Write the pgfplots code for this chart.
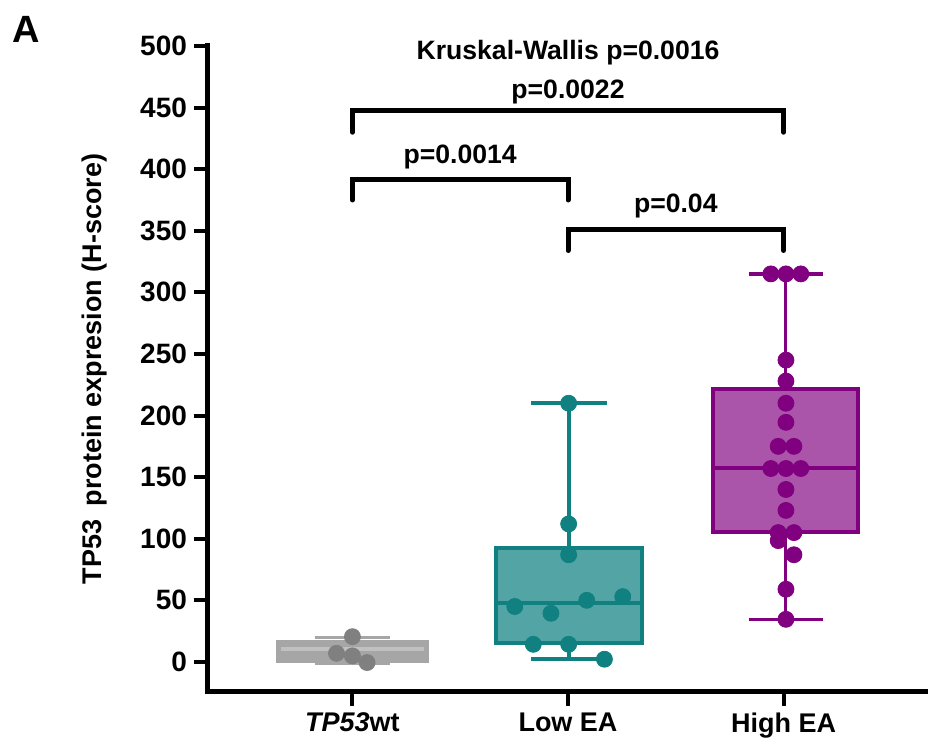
\documentclass[border=0pt]{standalone}
\usepackage{fontspec}
\setmainfont{Liberation Sans}
\usepackage{pgfplots}
\pgfplotsset{compat=1.18}
\definecolor{tealc}{RGB}{16,128,128}
\definecolor{purp}{RGB}{128,0,128}
\definecolor{grayc}{RGB}{128,128,128}
\begin{document}
\begin{tikzpicture}
\useasboundingbox (0,0) rectangle (464pt,371.5pt);
\node[font=\bfseries\fontsize{19}{22}\selectfont, anchor=center] at (13pt,357pt) {A};
\begin{axis}[
  at={(104pt,25.5pt)}, anchor=south west,
  scale only axis, width=360pt, height=323pt,
  xmin=-0.67, xmax=2.67, ymin=-24.4, ymax=500,
  axis lines=left,
  axis line style={-, line width=2.5pt, line cap=rect},
  xtick={0,1,2},
  xticklabels={\textit{TP53}wt, Low EA, High EA},
  ytick={0,50,...,500},
  tick align=outside, major tick length=7pt,
  tick style={line width=2pt, black},
  /pgf/number format/assume math mode=true,
  yticklabel style={font=\bfseries\fontsize{14}{16}\selectfont},
  xticklabel style={font=\bfseries\fontsize{13.5}{16}\selectfont},
  ylabel={TP53\hspace{0.5em}protein expresion (H-score)},
  ylabel style={font=\bfseries\fontsize{13.5}{16}\selectfont, at={(axis description cs:-0.157,0.5)}, anchor=center},
  clip=false,
]
% ---- TP53wt box
\addplot[draw=grayc!70, fill=grayc!70, line width=2pt] coordinates {(-0.345,0.5) (0.345,0.5) (0.345,16) (-0.345,16)} --cycle;
\addplot[grayc!70, line width=1.75pt] coordinates {(-0.175,19.7) (0.175,19.7)};
\addplot[grayc!70, line width=1.75pt] coordinates {(0,16) (0,19.7)};
\addplot[grayc!70, line width=1.75pt] coordinates {(-0.175,-0.8) (0.175,-0.8)};
\addplot[grayc!50, line width=2pt] coordinates {(-0.33,10.3) (0.33,10.3)};
% ---- Low EA box
\addplot[draw=tealc, fill=tealc!72, line width=2pt] coordinates {(0.665,15.2) (1.345,15.2) (1.345,92.3) (0.665,92.3)} --cycle;
\addplot[tealc, line width=2pt] coordinates {(0.665,47.6) (1.345,47.6)};
\addplot[tealc, line width=1.75pt] coordinates {(1.005,92.3) (1.005,210)};
\addplot[tealc, line width=1.75pt] coordinates {(0.83,210) (1.18,210)};
\addplot[tealc, line width=1.75pt] coordinates {(1.005,15.2) (1.005,2.2)};
\addplot[tealc, line width=1.75pt] coordinates {(0.83,2.2) (1.18,2.2)};
% ---- High EA box
\addplot[draw=purp, fill=purp!67, line width=2pt] coordinates {(1.6725,105.8) (2.3475,105.8) (2.3475,221.3) (1.6725,221.3)} --cycle;
\addplot[purp, line width=2pt] coordinates {(1.6725,157.2) (2.3475,157.2)};
\addplot[purp, line width=1.75pt] coordinates {(2.01,221.3) (2.01,315)};
\addplot[purp, line width=1.75pt] coordinates {(1.8375,315) (2.1825,315)};
\addplot[purp, line width=1.75pt] coordinates {(2.01,105.8) (2.01,34.6)};
\addplot[purp, line width=1.75pt] coordinates {(1.8375,34.6) (2.1825,34.6)};
% ---- points
\addplot[only marks, mark=*, mark size=4pt, mark options={fill=grayc, draw=grayc}] coordinates {
(0,20.5) (-0.074,7) (0,4.9) (0.068,-0.5)};
\addplot[only marks, mark=*, mark size=4pt, mark options={fill=tealc, draw=tealc}] coordinates {
(1.003,210) (1.003,112) (1.003,87) (0.753,45) (0.921,39.5) (1.087,50) (1.254,53) (0.839,14.3) (1.003,14.3) (1.169,2.2)};
\addplot[only marks, mark=*, mark size=4pt, mark options={fill=purp, draw=purp}] coordinates {
(1.941,315) (2.011,315) (2.080,315)
(2.011,245) (2.011,228) (2.011,210) (2.011,194.5)
(1.975,175) (2.048,175)
(1.941,157) (2.011,157) (2.080,157)
(2.011,140) (2.011,123)
(1.975,105) (2.048,105)
(1.975,98.5) (2.048,87)
(2.011,59) (2.011,34.6)};
% ---- brackets
\addplot[black, line width=2.5pt, line cap=round, line join=miter] coordinates {(0,430) (0,448) (2,448) (2,430)};
\addplot[black, line width=2.5pt, line cap=round, line join=miter] coordinates {(0,375) (0,392) (1,392) (1,375)};
\addplot[black, line width=2.5pt, line cap=round, line join=miter] coordinates {(1,334) (1,351) (2,351) (2,334)};
\node[font=\bfseries\fontsize{13.3}{16}\selectfont] at (axis cs:1,495) {Kruskal-Wallis p=0.0016};
\node[font=\bfseries\fontsize{13.3}{16}\selectfont] at (axis cs:1,463) {p=0.0022};
\node[font=\bfseries\fontsize{13.3}{16}\selectfont] at (axis cs:0.5,410) {p=0.0014};
\node[font=\bfseries\fontsize{13.3}{16}\selectfont] at (axis cs:1.5,370) {p=0.04};
\end{axis}
\end{tikzpicture}
\end{document}
